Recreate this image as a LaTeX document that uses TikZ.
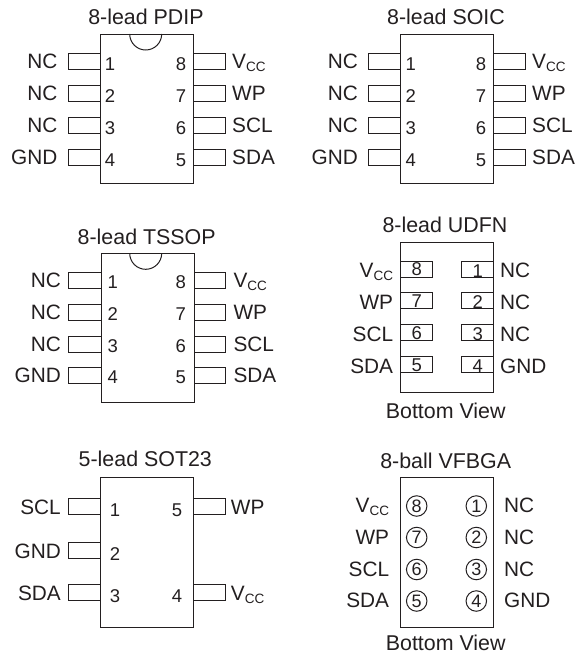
\documentclass[tikz,border=0pt]{standalone}
\usepackage{fontspec}
\setmainfont{Liberation Sans}
\definecolor{ink}{HTML}{231F20}
\newcommand{\vcc}{V\raisebox{-3pt}{\fontsize{13.5}{13.5}\selectfont CC}}
\tikzset{
  pkg/.style={draw=ink,line width=1pt},
  title/.style={text=ink,font=\fontsize{21.4}{23}\selectfont,anchor=base,inner sep=0pt},
  lbl/.style={text=ink,font=\fontsize{20.8}{22}\selectfont,inner sep=0pt},
  lblL/.style={lbl,anchor=base east},
  lblR/.style={lbl,anchor=base west},
  num/.style={text=ink,font=\fontsize{18.5}{20}\selectfont,inner sep=0pt,anchor=base},
  ball/.style={pkg,circle,minimum size=20.5pt,inner sep=0pt,text=ink,font=\fontsize{18}{18}\selectfont},
}
\begin{document}
\begin{tikzpicture}[x=1pt,y=-1pt]
\useasboundingbox (0,0) rectangle (574,653);
% ---------- PDIP
\node[title] (t1) at (146,24) {8-lead PDIP};
\draw[pkg] (100,34) rectangle (193,183);
\draw[pkg] (129.7,34) arc[start angle=180,end angle=0,radius=16];
\foreach \y/\nl/\tl/\nr/\tr in {61/1/NC/8/\vcc,93/2/NC/7/WP,125/3/NC/6/SCL,157/4/GND/5/SDA}{
  \draw[pkg] (100,\y-8) -- (68,\y-8) -- (68,\y+8) -- (100,\y+8);
  \draw[pkg] (193,\y-8) -- (225,\y-8) -- (225,\y+8) -- (193,\y+8);
  \node[lblL] (a\nl) at (57.5,\y+7.3) {\tl};
  \node[lblR] (b\nr) at (232,\y+7.3) {\tr};
  \node[num] (c\nl) at (110,\y+9) {\nl};
  \node[num] (d\nr) at (181,\y+9) {\nr};
}
% ---------- SOIC
\node[title] (t2) at (446,24) {8-lead SOIC};
\draw[pkg] (400.5,34) rectangle (493.5,183);
\foreach \y/\nl/\tl/\nr/\tr in {61/1/NC/8/\vcc,93/2/NC/7/WP,125/3/NC/6/SCL,157/4/GND/5/SDA}{
  \draw[pkg] (400.5,\y-8) -- (368.5,\y-8) -- (368.5,\y+8) -- (400.5,\y+8);
  \draw[pkg] (493.5,\y-8) -- (525.7,\y-8) -- (525.7,\y+8) -- (493.5,\y+8);
  \node[lblL] (e\nl) at (358,\y+7.3) {\tl};
  \node[lblR] (f\nr) at (532,\y+7.3) {\tr};
  \node[num] (g\nl) at (410.7,\y+9) {\nl};
  \node[num] (h\nr) at (481,\y+9) {\nr};
}
% ---------- TSSOP
\node[title] (t3) at (146.7,244) {8-lead TSSOP};
\draw[pkg] (101.3,253.3) rectangle (194.3,402.7);
\draw[pkg] (129.7,253.3) arc[start angle=180,end angle=0,radius=16];
\foreach \y/\nl/\tl/\nr/\tr in {280/1/NC/8/\vcc,312/2/NC/7/WP,344/3/NC/6/SCL,375.5/4/GND/5/SDA}{
  \draw[pkg] (101.3,\y-8) -- (68,\y-8) -- (68,\y+8) -- (101.3,\y+8);
  \draw[pkg] (194.3,\y-8) -- (225,\y-8) -- (225,\y+8) -- (194.3,\y+8);
  \node[lblL] (i\nl) at (61,\y+7.3) {\tl};
  \node[lblR] (j\nr) at (233.3,\y+7.3) {\tr};
  \node[num] (k\nl) at (112.7,\y+8.4) {\nl};
  \node[num] (l\nr) at (180.7,\y+8.4) {\nr};
}
% ---------- UDFN
\node[title] (t4) at (445,232.5) {8-lead UDFN};
\draw[pkg] (400.7,242.7) rectangle (493.3,392);
\foreach \y/\nl/\tl/\nr/\tr in {269/1/NC/8/\vcc,300.7/2/NC/7/WP,332.7/3/NC/6/SCL,364.5/4/GND/5/SDA}{
  \draw[pkg] (400.7,\y-8) rectangle (432.3,\y+8);
  \draw[pkg] (461.7,\y-8) rectangle (493.3,\y+8);
  \node[lblL] (m\nl) at (393.3,\y+8.6) {\tr};
  \node[lblR] (n\nr) at (500,\y+8.6) {\tl};
  \node[num] (o\nl) at (416.7,\y+6.6) {\nr};
  \node[num] (p\nr) at (477.7,\y+8) {\nl};
}
\node[title] (b4) at (445.7,418) {Bottom View};
% ---------- SOT23
\node[title] (t5) at (145.3,466) {5-lead SOT23};
\draw[pkg] (100,477.7) rectangle (193,627);
\foreach \y/\n/\t in {506.7/1/SCL,550.7/2/GND,592.7/3/SDA}{
  \draw[pkg] (100,\y-8) -- (68.3,\y-8) -- (68.3,\y+8) -- (100,\y+8);
  \node[lblL] (q\n) at (61,\y+7.8) {\t};
  \node[num] (r\n) at (115,\y+9.5) {\n};
}
\foreach \y/\n/\t in {506.7/5/WP,592.7/4/\vcc}{
  \draw[pkg] (193,\y-8) -- (225,\y-8) -- (225,\y+8) -- (193,\y+8);
  \node[lblR] (s\n) at (230.7,\y+7.5) {\t};
  \node[num] (u\n) at (177,\y+9.5) {\n};
}
% ---------- VFBGA
\node[title] (t6) at (445.7,468) {8-ball VFBGA};
\draw[pkg] (400,477.7) rectangle (493,627);
\foreach \y/\nl/\tl/\nr/\tr in {506/8/\vcc/1/NC,537.5/7/WP/2/NC,569.5/6/SCL/3/NC,601/5/SDA/4/GND}{
  \node[ball] (v\nl) at (416.7,\y) {\nl};
  \node[ball] (w\nr) at (476.3,\y) {\nr};
  \node[lblL] (x\nl) at (389.3,\y+6.7) {\tl};
  \node[lblR] (z\nr) at (504,\y+6.7) {\tr};
}
\node[title] (b6) at (445.7,650.5) {Bottom View};
\end{tikzpicture}
\end{document}
